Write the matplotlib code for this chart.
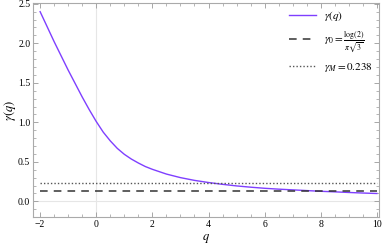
import numpy as np
import matplotlib
matplotlib.use("Agg")
import matplotlib.pyplot as plt
from matplotlib.ticker import MultipleLocator

plt.rcParams['font.family'] = ['Liberation Serif', 'DejaVu Serif']
plt.rcParams['mathtext.fontset'] = 'stix'

# gamma(q)
q = [-2.0, -1.75, -1.5, -1.25, -1.0, -0.75, -0.5, -0.25, 0.0, 0.25, 0.5, 0.75,
     1.0, 1.25, 1.5, 1.75, 2.0, 2.5, 3.0, 3.5, 4.0, 4.5, 5.0, 5.5, 6.0, 6.5,
     7.0, 7.5, 8.0, 8.5, 9.0, 9.5, 10.0]
gamma = [2.40, 2.21, 2.02, 1.84, 1.66, 1.49, 1.32, 1.16, 1.01, 0.875, 0.765, 0.67,
         0.595, 0.535, 0.485, 0.44, 0.405, 0.345, 0.30, 0.265, 0.238, 0.215, 0.195,
         0.179, 0.165, 0.154, 0.145, 0.136, 0.127, 0.120, 0.112, 0.105, 0.099]
gamma0 = np.log(2) / (np.pi * np.sqrt(3))
gammaM = 0.238

fig = plt.figure(figsize=(3.85, 2.49), dpi=100)
ax = fig.add_axes([0.086, 0.128, 0.898, 0.86])

ax.axhline(0, color='#e6e6e6', lw=0.8, zorder=0)
ax.axvline(0, color='#e6e6e6', lw=0.8, zorder=0)

ax.plot(q, gamma, color='#7f3fff', lw=1.0, label=r'$\gamma(q)$')
ax.plot([q[0], q[-1]], [gamma0, gamma0], color='#333333', lw=1.1,
        dashes=(5, 4), label=r'$\gamma_0=\frac{\log(2)}{\pi\sqrt{3}}$')
ax.plot([q[0], q[-1]], [gammaM, gammaM], color='#555555', lw=1.0,
        dashes=(1, 1.5), label=r'$\gamma_M=0.238$')

ax.set_xlim(-2.25, 10.07)
ax.set_ylim(-0.2, 2.51)
ax.xaxis.set_major_locator(MultipleLocator(2))
ax.xaxis.set_minor_locator(MultipleLocator(0.5))
ax.yaxis.set_major_locator(MultipleLocator(0.5))
ax.yaxis.set_minor_locator(MultipleLocator(0.1))
ax.yaxis.set_major_formatter(matplotlib.ticker.FormatStrFormatter('%.1f'))
ax.xaxis.set_major_formatter(matplotlib.ticker.FuncFormatter(
    lambda v, p: ('\u2212%d' % -v) if v < 0 else '%d' % v))

ax.tick_params(which='both', direction='in', top=True, right=True,
               color='#999999', labelsize=7, pad=2)
ax.tick_params(which='major', length=3.5, width=0.6)
ax.tick_params(which='minor', length=2, width=0.5)
for s in ax.spines.values():
    s.set_color('#aaaaaa')
    s.set_linewidth(0.8)

ax.set_xlabel(r'$q$', fontsize=9, labelpad=2)
ax.set_ylabel(r'$\gamma(q)$', fontsize=9)
ax.yaxis.set_label_coords(-0.045, 0.5)

ax.legend(loc='upper right', frameon=False, fontsize=8, handlelength=2.4,
          labelspacing=0.6, borderaxespad=0.1)

fig.savefig('out.png', dpi=100)
